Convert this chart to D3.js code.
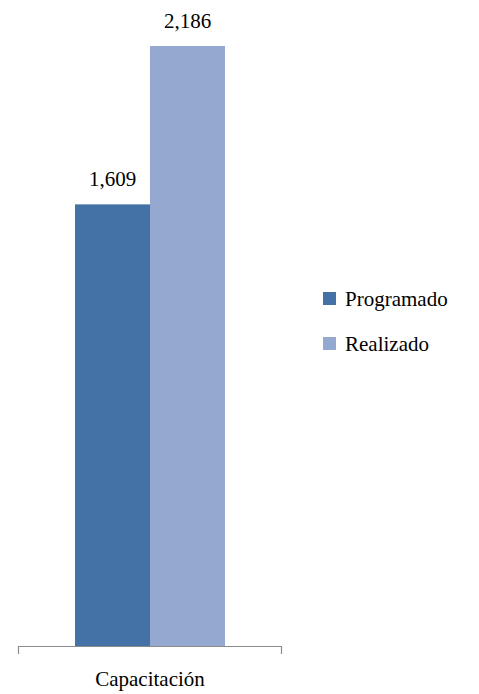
<!DOCTYPE html>
<html><head><meta charset="utf-8">
<script src="https://cdn.jsdelivr.net/npm/d3@7"></script>
<style>html,body{margin:0;padding:0;background:#fff}svg{display:block}</style>
</head><body>
<script>
const categories = ["Capacitación"];
const seriesNames = ["Programado", "Realizado"];
const programado = [1609];
const realizado = [2186];
const colors = ["#4472a7", "#95a9d0"];

const W = 479, H = 694;
const FF = "Liberation Serif, Times New Roman, serif";
const svg = d3.select("body").append("svg").attr("width", W).attr("height", H)
  .attr("font-family", FF).attr("font-size", 21);

const x0 = d3.scaleBand().domain(categories).range([18, 282]).paddingInner(0).paddingOuter(0.38);
const x1 = d3.scaleBand().domain(seriesNames).range([0, x0.bandwidth()]);
const y = d3.scaleLinear().domain([0, 2186]).range([646, 46]);

const data = categories.map((c, i) => ({cat: c, vals: [programado[i], realizado[i]]}));

const g = svg.append("g").attr("font-family", FF);
data.forEach(d => {
  d.vals.forEach((v, j) => {
    const bx = x0(d.cat) + x1(seriesNames[j]);
    g.append("rect").attr("x", bx).attr("y", y(v)).attr("width", x1.bandwidth()).attr("height", y(0) - y(v)).attr("fill", colors[j]);
    g.append("text").attr("x", bx + x1.bandwidth() / 2).attr("y", y(v) - 18)
      .attr("text-anchor", "middle").attr("font-family", FF).attr("font-size", 21).attr("fill", "#000")
      .text(d3.format(",")(v));
  });
});

const axis = svg.append("g").attr("font-family", FF);
axis.append("path").attr("d", `M18.5,654V646.5H281.5V654`).attr("fill", "none").attr("stroke", "#8c8c8c").attr("stroke-width", 1.2);
categories.forEach(c => {
  axis.append("text").attr("x", x0(c) + x0.bandwidth() / 2).attr("y", 686).attr("text-anchor", "middle")
    .attr("font-family", FF).attr("font-size", 21).attr("fill", "#000").text(c);
});

const leg = svg.append("g").attr("transform", "translate(323,292)").attr("font-family", FF);
seriesNames.forEach((s, j) => {
  const gy = j * 45;
  leg.append("rect").attr("x", 0).attr("y", gy).attr("width", 13).attr("height", 13).attr("fill", colors[j]);
  leg.append("text").attr("x", 22).attr("y", gy + 13.5).attr("font-family", FF).attr("font-size", 21).attr("fill", "#000").text(s);
});
</script>
</body></html>
